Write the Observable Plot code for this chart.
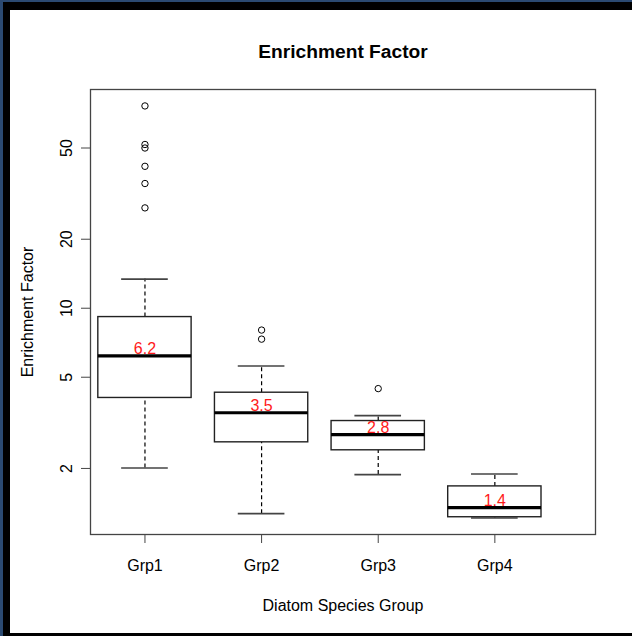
<!DOCTYPE html>
<html><head><meta charset="utf-8">
<script src="https://cdn.jsdelivr.net/npm/d3@7"></script>
<script src="https://cdn.jsdelivr.net/npm/@observablehq/plot@0.6"></script>
<style>
html,body{margin:0;padding:0;background:#fff;overflow:hidden;}
#outer{position:absolute;left:0;top:0;width:629px;height:634px;border-top:2px solid #2b4a72;border-left:3px solid #2b4a72;}
#inner{width:622px;height:623px;border-top:8px solid #000;border-left:7px solid #000;border-bottom:3px solid #000;background:#fff;}
#inner svg{display:block;}
</style></head>
<body><div id="outer"><div id="inner"></div></div>
<script>
const groups = ["Grp1", "Grp2", "Grp3", "Grp4"];
const whiskerLo = [2.01, 1.27, 1.88, 1.215];
const q1 = [4.06, 2.60, 2.40, 1.225];
const median = [6.2, 3.50, 2.81, 1.35];
const q3 = [9.15, 4.28, 3.22, 1.67];
const whiskerHi = [13.4, 5.60, 3.40, 1.89];
const outliers = [[76.3, 51.8, 50.0, 41.6, 35.0, 27.4], [8.03, 7.33], [4.46], []];
const medianLabels = ["6.2", "3.5", "2.8", "1.4"];
const yTicks = [2, 5, 10, 20, 50];

const idx = groups.map((g, i) => i);
const pos = i => i + 1;
const outlierData = outliers.flatMap((vals, i) => vals.map(v => ({i, v})));

const chart = Plot.plot({
  width: 622, height: 623,
  marginLeft: 80, marginRight: 37, marginTop: 79, marginBottom: 99,
  style: {fontFamily: "'Liberation Sans', Arial, sans-serif", fontSize: "16px", color: "black", background: "white"},
  x: {type: "linear", domain: [0.533, 4.863]},
  y: {type: "log", domain: [1.03, 90]},
  marks: [
    Plot.frame({stroke: "#444", strokeWidth: 1.3}),
    Plot.axisY({ticks: yTicks, tickFormat: d => String(d), tickSize: 9, tickPadding: 10, tickRotate: -90, label: null, stroke: "#444"}),
    Plot.axisX({ticks: idx.map(pos), tickFormat: d => groups[d - 1], tickSize: 9, tickPadding: 16, label: null, stroke: "#444"}),
    Plot.ruleX(idx, {x: pos, y1: i => q3[i], y2: i => whiskerHi[i], stroke: "black", strokeWidth: 1.2, strokeDasharray: "4,3"}),
    Plot.ruleX(idx, {x: pos, y1: i => whiskerLo[i], y2: i => q1[i], stroke: "black", strokeWidth: 1.2, strokeDasharray: "4,3"}),
    Plot.ruleY(idx, {y: i => whiskerHi[i], x1: i => pos(i) - 0.2, x2: i => pos(i) + 0.2, stroke: "#444", strokeWidth: 1.6}),
    Plot.ruleY(idx, {y: i => whiskerLo[i], x1: i => pos(i) - 0.2, x2: i => pos(i) + 0.2, stroke: "#444", strokeWidth: 1.6}),
    Plot.rect(idx, {x1: i => pos(i) - 0.4, x2: i => pos(i) + 0.4, y1: i => q1[i], y2: i => q3[i], fill: "white", stroke: "#222", strokeWidth: 1.4}),
    Plot.ruleY(idx, {y: i => median[i], x1: i => pos(i) - 0.4, x2: i => pos(i) + 0.4, stroke: "black", strokeWidth: 3.2}),
    Plot.dot(outlierData, {x: d => pos(d.i), y: "v", r: 3.2, stroke: "black", fill: "none", strokeWidth: 1}),
    Plot.text(idx, {x: pos, y: i => median[i], text: i => medianLabels[i], fill: "#ff1a1a", fontSize: 16, lineAnchor: "bottom", dy: -2}),
    Plot.text(["Enrichment Factor"], {frameAnchor: "top", lineAnchor: "bottom", dy: -32, fontSize: 19.2, fontWeight: "bold", fill: "black"}),
    Plot.text(["Diatom Species Group"], {frameAnchor: "bottom", lineAnchor: "bottom", dy: 76, fontSize: 16, fill: "black"}),
    Plot.text(["Enrichment Factor"], {frameAnchor: "left", textAnchor: "middle", lineAnchor: "bottom", rotate: -90, dx: -58, fontSize: 16, fill: "black"})
  ]
});
document.getElementById("inner").appendChild(chart);
</script>
</body></html>
